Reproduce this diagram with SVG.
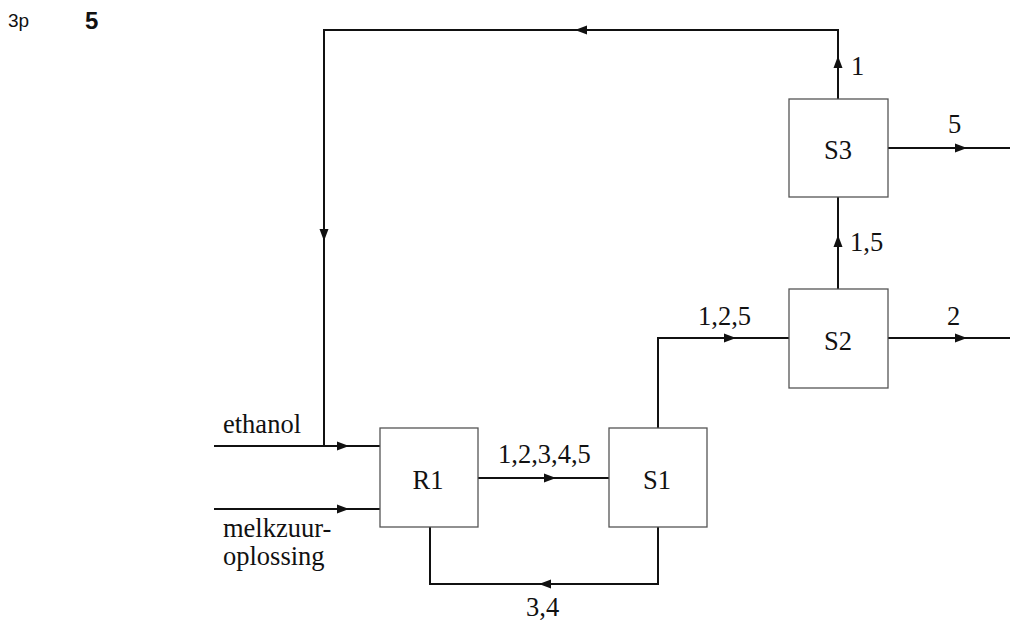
<svg xmlns="http://www.w3.org/2000/svg" width="1010" height="620" viewBox="0 0 1010 620">
<style>
.box{fill:#fff;stroke:#555;stroke-width:1.3}
.ln{fill:none;stroke:#111;stroke-width:2}
.ah{fill:#111}
.t{font-family:"Liberation Serif",serif;font-size:26.5px;fill:#111}
.bt{font-family:"Liberation Serif",serif;font-size:26.5px;fill:#111;text-anchor:middle}
</style>
<rect width="1010" height="620" fill="#fff"/>
<text x="8" y="27" font-family="Liberation Sans, sans-serif" font-size="19" fill="#111">3p</text>
<text x="85" y="29" font-family="Liberation Sans, sans-serif" font-size="24" font-weight="bold" fill="#111">5</text>
<g id="connectors">
<path class="ln" d="M838 99 V30 H324 V446"/>
<path class="ln" d="M214 446 H380"/>
<path class="ln" d="M214 509 H380"/>
<path class="ln" d="M478 478 H609"/>
<path class="ln" d="M430 527 V584 H658 V527"/>
<path class="ln" d="M658 428 V338 H789"/>
<path class="ln" d="M888 338 H1010"/>
<path class="ln" d="M838 289 V197"/>
<path class="ln" d="M888 148 H1010"/>
<path class="ah" d="M838 56 l-4.5 12 h9 z"/>
<path class="ah" d="M575 30 l12 -4.5 v9 z"/>
<path class="ah" d="M324 241 l-4.5 -12 h9 z"/>
<path class="ah" d="M349 446 l-12 -4.5 v9 z"/>
<path class="ah" d="M349 509 l-12 -4.5 v9 z"/>
<path class="ah" d="M556 478 l-12 -4.5 v9 z"/>
<path class="ah" d="M539 584 l12 -4.5 v9 z"/>
<path class="ah" d="M736 338 l-12 -4.5 v9 z"/>
<path class="ah" d="M967 338 l-12 -4.5 v9 z"/>
<path class="ah" d="M838 235 l-4.5 12 h9 z"/>
<path class="ah" d="M967 148 l-12 -4.5 v9 z"/>
<text class="t" x="851" y="75">1</text>
<text class="t" x="948" y="133">5</text>
<text class="t" x="850" y="251">1,5</text>
<text class="t" x="698" y="325">1,2,5</text>
<text class="t" x="947" y="325">2</text>
<text class="t" x="498" y="463">1,2,3,4,5</text>
<text class="t" x="526" y="616">3,4</text>
<text class="t" x="223" y="433">ethanol</text>
<text class="t" x="223" y="537">melkzuur-</text>
<text class="t" x="223" y="565">oplossing</text>
</g>
<g id="R1"><rect class="box" x="380" y="428" width="98" height="99"/><text class="bt" x="428" y="489">R1</text></g>
<g id="S1"><rect class="box" x="609" y="428" width="98" height="99"/><text class="bt" x="657" y="489">S1</text></g>
<g id="S2"><rect class="box" x="789" y="289" width="99" height="99"/><text class="bt" x="838" y="350">S2</text></g>
<g id="S3"><rect class="box" x="789" y="99" width="99" height="98"/><text class="bt" x="838" y="159">S3</text></g>
</svg>
